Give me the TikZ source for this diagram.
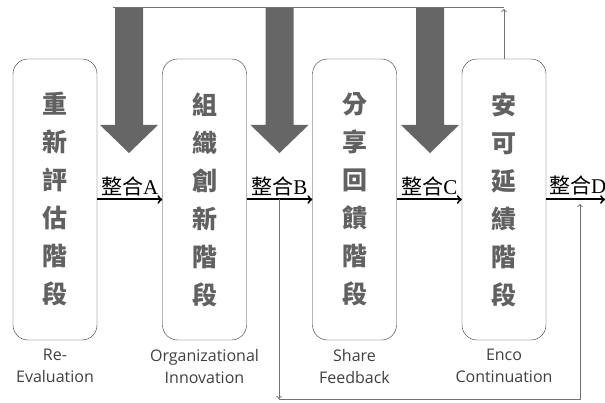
\documentclass[tikz,border=0pt]{standalone}
\usepackage{fontspec}
\setmainfont{Liberation Serif}
\setsansfont{Open Sans}
\newfontfamily\cjk{Noto Sans CJK TC}
\usepackage{tikz}
\usetikzlibrary{arrows}
\usetikzlibrary{calc}
\tikzset{st/.style={draw=black!80,rounded corners=15pt,minimum width=84pt,minimum height=281pt,inner sep=0pt}}
\tikzset{ch/.style={font=\cjk\bfseries\fontsize{25}{38}\selectfont,text=black!62,align=center}}
\tikzset{en/.style={font=\sffamily\fontsize{16}{22}\selectfont,text=black!75,align=center}}
\tikzset{l/.style={font=\fontsize{21}{21}\selectfont,inner sep=2pt}}
\tikzset{ar/.style={->,line width=2pt}}
\tikzset{fb/.style={draw=black!55,line width=1pt}}

\begin{document}
\begin{tikzpicture}[x=1pt,y=-1pt]
            \useasboundingbox (0,0) rectangle (605,403);
            \foreach \x in {129,279.5,430}
              \fill[black!60] (\x-14,8) -- (\x+14,8) -- (\x+14,125) -- (\x+29,125) -- (\x,153) -- (\x-29,125) -- (\x-14,125) -- cycle;
            \node[st,ch] (R) at (55,199.5) {重\\新\\評\\估\\階\\段};
            \node[st,ch] (O) at (204.5,199.5) {組\\織\\創\\新\\階\\段};
            \node[st,ch] (S) at (354.5,199.5) {分\\享\\回\\饋\\階\\段};
            \node[st,ch] (E) at (504,199.5) {安\\可\\延\\績\\階\\段};
            \node[en] (Rl) at (55,366) {Re-\\Evaluation};
            \node[en] (Ol) at (204.5,366) {Organizational\\Innovation};
            \node[en] (Sl) at (354.5,366) {Share\\Feedback};
            \node[en] (El) at (504,366) {Enco\\Continuation};
            \draw[ar] (R) -- node[l,above] {{\cjk 整合}A} (O);
            \draw[ar] (O) -- node[l,above] {{\cjk 整合}B} (S);
            \draw[ar] (S) -- node[l,above] {{\cjk 整合}C} (E);
            \coordinate (out) at (605,199.5);
            \draw[ar] (E) -- (out);
            \node[l,anchor=south west] (lD) at (547,197) {{\cjk 整合}D};
            % feedback to the top
            \coordinate (top) at (E.north |- 0,9);
            \coordinate (topl) at (113,8);
            \draw[fb,->] (E.north) -- (top);
            \draw[fb] (topl) -- (E.north |- topl);
            % loop below
            \coordinate (bs) at (279,199.5);
            \coordinate (bl) at (279,399);
            \coordinate (br) at (580,399);
            \coordinate (dj) at (580,204);
            \draw[fb,->] (bs) -- (bl);
            \draw[fb,->] (bl) -- (br) -- (dj);
          \end{tikzpicture}
\end{document}
